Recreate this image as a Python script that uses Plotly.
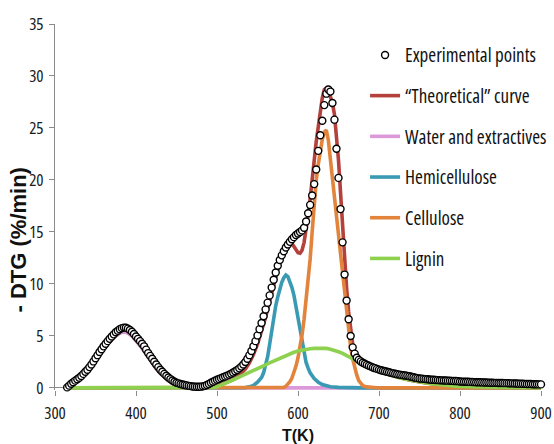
import plotly.graph_objects as go

# ---------------- data ----------------
# Experimental points: every 2.5 K starting at 315 K (rows of 8 = 20 K)
exp_t_start = 315.0
exp_t_step = 2.5
dtg_exp = [
    0.05, 0.22, 0.40, 0.55, 0.70, 0.84, 0.98, 1.15,      # 315
    1.35, 1.55, 1.75, 2.00, 2.25, 2.55, 2.85, 3.15,      # 335
    3.45, 3.72, 4.00, 4.25, 4.50, 4.72, 4.95, 5.15,      # 355
    5.35, 5.50, 5.65, 5.75, 5.80, 5.78, 5.70, 5.57,      # 375
    5.40, 5.18, 4.95, 4.72, 4.50, 4.25, 4.00, 3.68,      # 395
    3.35, 3.08, 2.80, 2.52, 2.25, 2.00, 1.75, 1.55,      # 415
    1.35, 1.17, 1.00, 0.85, 0.72, 0.60, 0.50, 0.44,      # 435
    0.38, 0.33, 0.28, 0.24, 0.20, 0.17, 0.14, 0.12,      # 455
    0.11, 0.11, 0.12, 0.15, 0.20, 0.28, 0.38, 0.50,      # 475
    0.60, 0.70, 0.78, 0.86, 0.94, 1.02, 1.10, 1.18,      # 495
    1.27, 1.37, 1.48, 1.60, 1.73, 1.88, 2.05, 2.25,      # 515
    2.50, 2.80, 3.15, 3.55, 4.00, 4.50, 5.05, 5.65,      # 535
    6.25, 6.90, 7.55, 8.20, 8.90, 9.65, 10.40, 11.10,    # 555
    11.75, 12.30, 12.75, 13.15, 13.50, 13.80, 14.05, 14.30,  # 575
    14.50, 14.70, 14.85, 15.00, 15.15, 15.40, 16.00, 16.80,  # 595
    17.60, 18.50, 19.60, 21.00, 22.80, 24.30, 25.70, 27.20,  # 615
    28.30, 28.70, 28.50, 27.40, 25.80, 23.00, 20.20, 17.20,  # 635
    14.00, 10.90, 8.40, 6.60, 5.00, 3.90, 3.30, 2.90,    # 655
    2.70, 2.55, 2.42, 2.32, 2.22, 2.13, 2.05, 1.97,      # 675
    1.90, 1.83, 1.76, 1.70, 1.65, 1.60, 1.55, 1.50,      # 695
    1.45, 1.40, 1.36, 1.32, 1.28, 1.25, 1.22, 1.19,      # 715
    1.16, 1.12, 1.08, 1.03, 0.98, 0.94, 0.91, 0.89,      # 735
    0.87, 0.85, 0.83, 0.81, 0.79, 0.78, 0.76, 0.75,      # 755
    0.74, 0.73, 0.72, 0.71, 0.70, 0.69, 0.68, 0.67,      # 775
    0.66, 0.65, 0.62, 0.61, 0.60, 0.60, 0.59, 0.58,      # 795
    0.57, 0.56, 0.55, 0.55, 0.54, 0.53, 0.52, 0.52,      # 815
    0.51, 0.50, 0.50, 0.49, 0.49, 0.48, 0.48, 0.47,      # 835
    0.46, 0.46, 0.45, 0.44, 0.44, 0.43, 0.42, 0.41,      # 855
    0.41, 0.40, 0.39, 0.38, 0.38, 0.37, 0.36, 0.36,      # 875
    0.35, 0.34, 0.34,                                    # 895
]
t_exp = [exp_t_start + exp_t_step * i for i in range(len(dtg_exp))]

# "Theoretical" curve
t_theo = [315, 320, 325, 330, 335, 340, 345, 350, 355, 360, 365, 370, 375, 380,
          385, 390, 395, 400, 405, 410, 415, 420, 425, 430, 435, 440, 445, 450,
          455, 460, 465, 470, 475, 480, 485, 490, 495, 500, 505, 510, 515, 520,
          525, 530, 535, 540, 545, 550, 555, 560, 565, 570, 575, 580, 585, 587.5,
          590, 592.5, 595, 597.5, 600, 602.5, 605, 607.5, 610, 612.5, 615, 617.5,
          620, 622.5, 625, 627.5, 630, 632.5, 635, 637.5, 640, 642.5, 645, 647.5,
          650, 652.5, 655, 657.5, 660, 662.5, 665, 667.5, 670, 672.5, 675, 680,
          685, 690, 695, 700, 705, 710, 715, 720, 725, 730, 735, 740, 745, 750,
          755, 760, 765, 770, 775, 780, 785, 790, 795, 800, 810, 820, 830, 840,
          850, 860, 870, 880, 890, 900]
dtg_theo = [0.05, 0.30, 0.60, 0.90, 1.25, 1.65, 2.10, 2.65, 3.20, 3.75, 4.25, 4.70, 5.05, 5.30,
            5.40, 5.30, 5.00, 4.60, 4.10, 3.55, 2.95, 2.40, 1.85, 1.40, 1.00, 0.70, 0.45, 0.30,
            0.20, 0.12, 0.08, 0.05, 0.03, 0.03, 0.05, 0.08, 0.14, 0.22, 0.32, 0.45, 0.60, 0.80,
            1.05, 1.38, 1.82, 2.40, 3.20, 4.20, 5.40, 6.80, 8.30, 9.90, 11.50, 12.90, 13.80, 14.00,
            14.05, 13.90, 13.60, 13.25, 13.00, 12.95, 13.25, 14.00, 15.20, 16.60, 18.20, 20.30,
            22.30, 23.70, 25.10, 26.60, 27.90, 28.70, 28.85, 28.60, 28.10, 27.40, 26.30, 24.40,
            21.90, 18.80, 15.50, 12.50, 9.60, 7.30, 5.50, 4.20, 3.40, 2.95, 2.70, 2.40,
            2.12, 1.90, 1.72, 1.57, 1.45, 1.33, 1.22, 1.10, 0.98, 0.88, 0.80, 0.72, 0.64, 0.57,
            0.52, 0.46, 0.41, 0.36, 0.31, 0.27, 0.23, 0.20, 0.17, 0.15, 0.12, 0.10, 0.08, 0.07,
            0.06, 0.05, 0.04, 0.04, 0.03, 0.03]

# Water and extractives
t_water = [315, 320, 325, 330, 335, 340, 345, 350, 355, 360, 365, 370, 375, 380,
           385, 390, 395, 400, 405, 410, 415, 420, 425, 430, 435, 440, 445, 450,
           455, 460, 465, 470, 475, 480, 490, 900]
dtg_water = [0.05, 0.30, 0.60, 0.90, 1.25, 1.65, 2.10, 2.65, 3.20, 3.75, 4.25, 4.70, 5.05, 5.30,
             5.40, 5.30, 5.00, 4.60, 4.10, 3.55, 2.95, 2.40, 1.85, 1.40, 1.00, 0.70, 0.45, 0.30,
             0.20, 0.12, 0.08, 0.05, 0.03, 0.02, 0.00, 0.00]

# Hemicellulose
t_hemi = [315, 530, 535, 540, 545, 550, 555, 557.5, 560, 562.5, 565, 567.5, 570, 572.5,
          575, 577.5, 580, 582.5, 585, 587.5, 590, 592.5, 595, 597.5, 600, 602.5, 605,
          607.5, 610, 612.5, 615, 620, 625, 630, 635, 640, 650, 660, 680, 900]
dtg_hemi = [0.00, 0.00, 0.03, 0.10, 0.25, 0.55, 1.00, 1.45, 2.10, 3.00, 4.20, 5.50, 6.80, 7.90,
            8.75, 9.50, 10.15, 10.60, 10.85, 10.70, 10.25, 9.65, 8.90, 7.80, 6.50, 5.30, 4.15,
            3.20, 2.45, 1.90, 1.45, 0.90, 0.55, 0.33, 0.20, 0.12, 0.05, 0.02, 0.00, 0.00]

# Cellulose
t_cell = [315, 580, 582.5, 585, 587.5, 590, 592.5, 595, 597.5, 600, 602.5, 605, 607.5, 610,
          612.5, 615, 617.5, 620, 622.5, 625, 627.5, 630, 632.5, 635, 637.5, 640, 642.5, 645,
          647.5, 650, 652.5, 655, 657.5, 660, 662.5, 665, 667.5, 670, 672.5, 675, 677.5, 680,
          685, 690, 700, 900]
dtg_cell = [0.00, 0.00, 0.05, 0.15, 0.35, 0.60, 0.95, 1.45, 2.10, 2.90, 3.90, 5.10, 6.60, 8.30,
            10.20, 12.40, 15.00, 17.80, 20.00, 21.50, 22.90, 23.90, 24.60, 24.80, 23.80, 22.00, 20.20, 18.20,
            16.30, 14.40, 12.60, 10.70, 8.80, 7.00, 5.30, 3.90, 2.80, 1.95, 1.25, 0.70, 0.40, 0.22,
            0.10, 0.05, 0.00, 0.00]

# Lignin
t_lig = [315, 490, 495, 500, 505, 510, 515, 520, 525, 530, 535, 540, 545, 550, 555, 560,
         565, 570, 575, 580, 585, 590, 595, 600, 605, 610, 615, 620, 625, 630, 635, 640,
         645, 650, 655, 660, 665, 670, 675, 680, 685, 690, 695, 700, 705, 710, 715, 720,
         725, 730, 735, 740, 745, 750, 755, 760, 765, 770, 775, 780, 785, 790, 795, 800,
         810, 820, 830, 840, 850, 860, 870, 880, 890, 900]
dtg_lig = [0.00, 0.00, 0.05, 0.12, 0.25, 0.42, 0.60, 0.78, 0.95, 1.12, 1.30, 1.48, 1.66, 1.85, 2.03, 2.22,
           2.42, 2.60, 2.80, 2.98, 3.15, 3.30, 3.43, 3.55, 3.65, 3.72, 3.77, 3.80, 3.82, 3.82, 3.80, 3.72,
           3.62, 3.48, 3.33, 3.15, 2.95, 2.70, 2.45, 2.22, 2.02, 1.85, 1.70, 1.57, 1.45, 1.33, 1.22, 1.10,
           0.98, 0.88, 0.80, 0.72, 0.64, 0.57, 0.52, 0.46, 0.41, 0.36, 0.31, 0.27, 0.23, 0.20, 0.17, 0.15,
           0.12, 0.10, 0.08, 0.07, 0.06, 0.05, 0.04, 0.04, 0.03, 0.03]

x_ticks = [300, 400, 500, 600, 700, 800, 900]
y_ticks = [0, 5, 10, 15, 20, 25, 30, 35]
series_names = ["Experimental points", "\u201cTheoretical\u201d curve", "Water and extractives",
                "Hemicellulose", "Cellulose", "Lignin"]

# ---------------- styles ----------------
C_THEO = "#B5413D"
C_WATER = "#DC98D8"
C_HEMI = "#3A9AB3"
C_CELL = "#E2843C"
C_LIG = "#8ED14F"
LW = 3.6
AXIS_C = "#8a8a8a"
NARROW = "Open Sans"
BOLD = "Liberation Sans, Arial, sans-serif"


def narrow(s):
    return '<span style="font-stretch:condensed">%s</span>' % s


fig = go.Figure()


def line_trace(x, y, name, color, rank):
    return go.Scatter(x=x, y=y, mode="lines", name=narrow(name), legendgroup=name,
                      legendrank=rank, cliponaxis=False,
                      line=dict(color=color, width=LW))


fig.add_trace(line_trace(t_theo, dtg_theo, series_names[1], C_THEO, 2))
fig.add_trace(line_trace(t_water, dtg_water, series_names[2], C_WATER, 3))
fig.add_trace(line_trace(t_hemi, dtg_hemi, series_names[3], C_HEMI, 4))
fig.add_trace(line_trace(t_cell, dtg_cell, series_names[4], C_CELL, 5))
fig.add_trace(line_trace(t_lig, dtg_lig, series_names[5], C_LIG, 6))
fig.add_trace(go.Scatter(
    x=t_exp, y=dtg_exp, mode="markers", name=narrow(series_names[0]),
    legendgroup="exp", legendrank=1, cliponaxis=False,
    marker=dict(symbol="circle", size=7, color="white",
                line=dict(color="black", width=1.4)),
))

tick_font = dict(family=NARROW, size=17, color="#1a1a1a")

fig.update_layout(
    width=554, height=444,
    margin=dict(l=55, r=13, t=24, b=54, autoexpand=False),
    paper_bgcolor="white", plot_bgcolor="white",
    xaxis=dict(range=[300, 900], tickvals=x_ticks,
               ticktext=[narrow(str(v)) for v in x_ticks],
               showline=False, showgrid=False, zeroline=False,
               ticks="outside", ticklen=5, tickcolor=AXIS_C, tickwidth=1,
               ticklabelstandoff=3, tickfont=tick_font, layer="below traces"),
    yaxis=dict(range=[-0.2, 35], tickvals=y_ticks,
               ticktext=[narrow(str(v)) for v in y_ticks],
               showline=True, linecolor=AXIS_C, linewidth=1,
               showgrid=False, zeroline=True, zerolinecolor=AXIS_C, zerolinewidth=1,
               ticks="outside", ticklen=5, tickcolor=AXIS_C, tickwidth=1,
               ticklabelstandoff=2, tickfont=tick_font, layer="below traces"),
    showlegend=True,
    legend=dict(x=0.638, y=0.967, xanchor="left", yanchor="top",
                font=dict(family=NARROW, size=19, color="#111111"),
                tracegroupgap=13, bgcolor="rgba(0,0,0,0)"),
    annotations=[
        dict(text="<b>- DTG (%/min)</b>", xref="paper", yref="paper",
             x=-0.075, y=0.41, xanchor="center", yanchor="middle",
             textangle=-90, showarrow=False,
             font=dict(family=BOLD, size=22, color="#111111")),
        dict(text="<b>T(K)</b>", xref="paper", yref="paper",
             x=0.5, y=-0.095, xanchor="center", yanchor="top",
             showarrow=False,
             font=dict(family=BOLD, size=16, color="#111111")),
    ],
)

fig.write_html("out.html")
